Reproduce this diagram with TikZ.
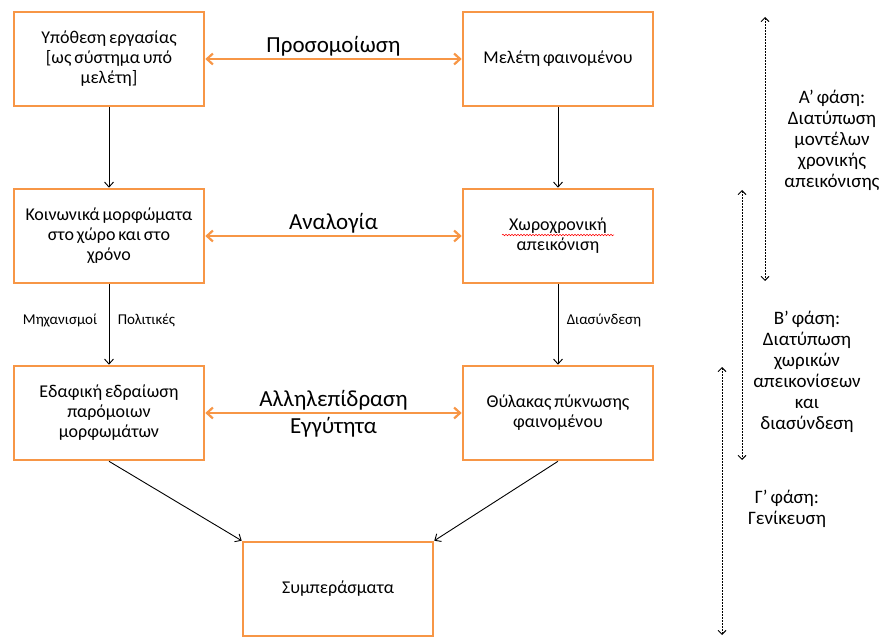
\documentclass[tikz,border=0pt]{standalone}
\usepackage{fontspec}
\setmainfont{Carlito}[WordSpace=0.7]
\usepackage{tikz}
\usetikzlibrary{arrows.meta,calc}
\usetikzlibrary{decorations,decorations.pathmorphing}
\usetikzlibrary{positioning}
\definecolor{boxorange}{RGB}{247,150,70}
\tikzstyle{box}=[draw=boxorange, line width=2.6pt, minimum width=190pt,
  minimum height=94pt, inner xsep=2pt, align=center, font=\fontsize{18}{20}\selectfont]
\tikzstyle{flow}=[-{Straight Barb[length=5pt,width=9pt]}, line width=0.9pt]
\tikzstyle{link}=[{Straight Barb[length=6pt,width=11pt]}-{Straight Barb[length=6pt,width=11pt]},
  draw=boxorange, line width=2.2pt]
\tikzstyle{phase}=[{Straight Barb[length=4pt,width=8pt]}-{Straight Barb[length=4pt,width=8pt]},
  dash pattern=on 2pt off 1pt, line width=0.9pt]
\tikzstyle{linklabel}=[font=\fontsize{23}{26}\selectfont, inner sep=1pt]
\tikzstyle{phaselabel}=[align=center, font=\fontsize{19}{21}\selectfont]
\tikzstyle{small}=[font=\fontsize{15}{17}\selectfont]

\begin{document}
\begin{tikzpicture}[x=1pt,y=-1pt]
  \useasboundingbox (0,0) rectangle (879,639);

  \coordinate (hyp) at (109,59);
  \coordinate (study) at (558,59);
  \coordinate (soc) at (109,236);
  \coordinate (map) at (558,236);
  \coordinate (terr) at (109,413);
  \coordinate (zone) at (558,413);
  \coordinate (concl) at (338,589);

  % phase arrows
  \coordinate (pa0) at (765,17);
  \coordinate (pa1) at (765,281);
  \coordinate (pb0) at (742,190);
  \coordinate (pb1) at (742,460);
  \coordinate (pc0) at (722,367);
  \coordinate (pc1) at (722,635);

  \node[box] (nhyp) at (hyp) {Υπόθεση εργασίας\\{}[ως σύστημα υπό\\μελέτη]};
  \node[box] (nstudy) at (study) {Μελέτη φαινομένου};
  \node[box] (nsoc) at (soc) {Κοινωνικά μορφώματα\\στο χώρο και στο\\χρόνο};
  \node[box] (nmap) at (map) {Χωροχρονική\\απεικόνιση};
  \node[box] (nterr) at (terr) {Εδαφική εδραίωση\\παρόμοιων\\μορφωμάτων};
  \node[box] (nzone) at (zone) {Θύλακας πύκνωσης\\φαινομένου};
  \node[box] (nconc) at (concl) {Συμπεράσματα};

  % spell check underline
  \draw[red, line width=0.5pt, decorate,
  decoration={snake,amplitude=0.8pt,segment length=3pt}]
  ($(map)+(-56,-1)$) -- ($(map)+(56,-1)$);

  % vertical flow
  \draw[flow] (nhyp) -- (nsoc);
  \draw[flow] (nsoc) -- node[small,left=8pt,pos=0.45]{Μηχανισμοί}
  node[small,right=5pt,pos=0.45]{Πολιτικές} (nterr);
  \draw[flow] (nstudy) -- (nmap);
  \draw[flow] (nmap) -- node[small,right=5pt,pos=0.45]{Διασύνδεση} (nzone);
  \draw[flow] (nterr.south) -- (nconc.north west);
  \draw[flow] (nzone.south) -- (nconc.north east);

  % orange links
  \draw[link] (nhyp) -- node[linklabel,above=1pt]{Προσομοίωση} (nstudy);
  \draw[link] (nsoc) -- node[linklabel,above=1pt]{Αναλογία} (nmap);
  \draw[link] (nterr) -- node[linklabel,above=1pt]{Αλληλεπίδραση}
  node[linklabel,below=2pt]{Εγγύτητα} (nzone);

  % phases
  \draw[phase] (pa0) -- (pa1);
  \draw[phase] (pb0) -- (pb1);
  \draw[phase] (pc0) -- (pc1);
  \node[phaselabel] (ta) at (832,140) {Α’ φάση:\\Διατύπωση\\μοντέλων\\χρονικής\\απεικόνισης};
  \node[phaselabel] (tb) at (807,372) {Β’ φάση:\\Διατύπωση\\χωρικών\\απεικονίσεων\\και\\διασύνδεση};
  \node[phaselabel] (tc) at (787,509) {Γ’ φάση:\\Γενίκευση};

\end{tikzpicture}
\end{document}
